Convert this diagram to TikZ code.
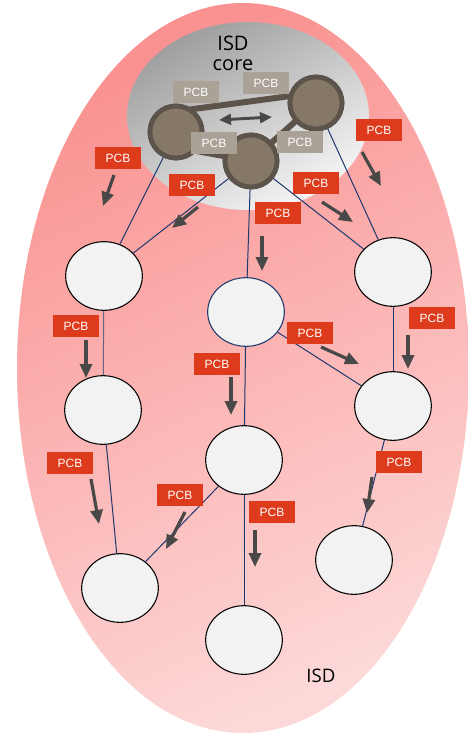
\documentclass[tikz,border=0pt]{standalone}
\usepackage{fontspec}
\setmainfont{Liberation Sans}
\newfontfamily\titlefont{Open Sans}
\usetikzlibrary{arrows.meta,shapes.geometric}

\definecolor{isdA}{RGB}{249,146,144}
\definecolor{isdB}{RGB}{253,216,216}
\definecolor{coreA}{RGB}{158,158,158}
\definecolor{coreB}{RGB}{246,246,246}
\definecolor{pcbred}{RGB}{222,58,28}
\definecolor{pcbgray}{RGB}{170,161,151}
\definecolor{brownfill}{RGB}{133,120,102}
\definecolor{brownedge}{RGB}{92,84,75}
\definecolor{linkblue}{RGB}{30,55,110}
\definecolor{linkgray}{RGB}{100,100,130}
\definecolor{arrowgray}{RGB}{72,72,72}
\definecolor{nodefill}{RGB}{242,242,242}

\tikzset{
  pcb/.style={fill=pcbred, text=white, minimum width=34pt, minimum height=16.5pt,
    inner sep=0pt, font=\fontsize{9}{10}\selectfont},
  pcbcore/.style={pcb, fill=pcbgray},
  isdnode/.style={ellipse, draw=black, line width=0.8pt, fill=nodefill,
    minimum width=57.5pt, minimum height=51.5pt, inner sep=0pt},
  corenode/.style={circle, fill=brownfill, draw=brownedge, line width=3.6pt,
    minimum size=39pt, inner sep=0pt},
  corelink/.style={brownedge, line width=4.5pt},
  link/.style={linkblue, line width=0.75pt},
  flow/.style={arrowgray, line width=2.4pt, -{Triangle[length=10.5pt,width=9pt]}},
  swap/.style={arrowgray, line width=2.2pt, {Triangle[length=9pt,width=8pt]}-{Triangle[length=9pt,width=8pt]}},
}

\begin{document}
\begin{tikzpicture}[x=0.75pt,y=-0.75pt]
\useasboundingbox (0,0) rectangle (468,736);
\clip (0,0) rectangle (468,736);

% domain and its core
\shade[top color=isdA, bottom color=isdB, shading angle=25] (243,368) ellipse (226 and 365);
\shade[top color=coreA, bottom color=coreB, shading angle=30] (248,116) ellipse (121 and 94);
\node[font=\titlefont\fontsize{15}{15}\selectfont, align=center] (coretitle) at (233,53) {ISD\\core};
\node[font=\titlefont\fontsize{14}{14}\selectfont] (isdtitle) at (321,676) {ISD};

% core ASes
\node[corenode] (c1) at (176,132) {};
\node[corenode] (c2) at (316,103) {};
\node[corenode] (c3) at (251,161) {};

% ordinary ASes
\node[isdnode] (A) at (104,276) {};
\node[isdnode, draw=linkblue] (B) at (246,312) {};
\node[isdnode] (C) at (393,272) {};
\node[isdnode] (D) at (103,410) {};
\node[isdnode] (E) at (393,406) {};
\node[isdnode] (F) at (244,460) {};
\node[isdnode] (G) at (120,588) {};
\node[isdnode] (H) at (354,560) {};
\node[isdnode] (I) at (244,640) {};

% core links, drawn under the core circles
\draw[corelink] (c1.center) ++(10,-22) -- ([shift={(-18,-8)}]c2.center);
\draw[corelink] ([shift={(15,18)}]c1.center) -- ([shift={(-22,-4)}]c3.center);
\draw[corelink] (c2.center) -- (c3.center);
\node[corenode] at (c1) {};
\node[corenode] at (c2) {};
\node[corenode] at (c3) {};

% parent-child links
\draw[link] (c1) -- (A);
\draw[link] (c3) -- (A);
\draw[link] (c3) -- (B);
\draw[link] (c3) -- (C);
\draw[link] (c2) -- (C);
\draw[link, linkgray] (A) -- (D);
\draw[link] (B) -- (E);
\draw[link] (C) -- (E);
\draw[link] (D) -- (G);
\draw[link] (F) -- (G);
\draw[link] (B) -- (F);
\draw[link] (E) -- (H);
\draw[link] (F) -- (I);

% core beacons
\coordinate (sw1) at (219,120);
\coordinate (sw2) at (272,117);
\draw[swap] (sw1) -- (sw2);
\node[pcbcore] (g1) at (196,92) {PCB};
\node[pcbcore] (g2) at (266,83) {PCB};
\node[pcbcore] (g3) at (214,143) {PCB};
\node[pcbcore] (g4) at (300,142) {PCB};

% intra-ISD beacons
\node[pcb] (p1) at (118,158) {PCB};
\node[pcb] (p2) at (192,185) {PCB};
\node[pcb] (p3) at (379,130) {PCB};
\node[pcb] (p4) at (316,183) {PCB};
\node[pcb] (p5) at (278,213) {PCB};
\node[pcb] (p6) at (76,326) {PCB};
\node[pcb] (p7) at (217,364) {PCB};
\node[pcb] (p8) at (310,333) {PCB};
\node[pcb] (p9) at (432,318) {PCB};
\node[pcb] (p10) at (399,462) {PCB};
\node[pcb] (p11) at (70,463) {PCB};
\node[pcb] (p12) at (180,495) {PCB};
\node[pcb] (p13) at (272,512) {PCB};

% propagation direction
\coordinate (a1s) at (114,175);  \coordinate (a1e) at (103,206);
\coordinate (a2s) at (198,207);  \coordinate (a2e) at (172,228);
\coordinate (a3s) at (362,152);  \coordinate (a3e) at (381,186);
\coordinate (a4s) at (322,202);  \coordinate (a4e) at (353,222);
\coordinate (a5s) at (262,236);  \coordinate (a5e) at (262,271);
\coordinate (a6s) at (86,340);   \coordinate (a6e) at (86,378);
\coordinate (a7s) at (231,377);  \coordinate (a7e) at (231,415);
\coordinate (a8s) at (321,347);  \coordinate (a8e) at (359,364);
\coordinate (a9s) at (408,335);  \coordinate (a9e) at (408,369);
\coordinate (a10s) at (372,477); \coordinate (a10e) at (367,513);
\coordinate (a11s) at (91,479);  \coordinate (a11e) at (99,524);
\coordinate (a12s) at (185,512); \coordinate (a12e) at (166,549);
\coordinate (a13s) at (255,530); \coordinate (a13e) at (255,567);
\foreach \k in {1,...,13} {\draw[flow] (a\k s) -- (a\k e);}
\end{tikzpicture}
\end{document}
